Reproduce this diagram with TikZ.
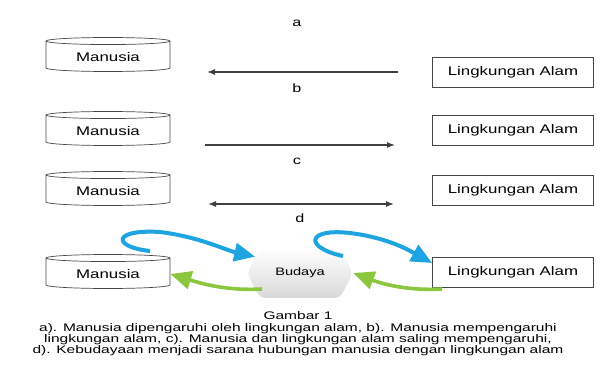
\documentclass[tikz,border=0pt]{standalone}
\usepackage{fontspec}
\setmainfont{Liberation Sans}[FakeStretch=1.35]
\newfontfamily\capfont{Liberation Sans}[FakeStretch=1.41]
\usetikzlibrary{arrows.meta,positioning,shapes.geometric,shapes.symbols}
\definecolor{skyarr}{RGB}{30,165,225}
\definecolor{leafarr}{RGB}{140,198,63}
\definecolor{edgegray}{RGB}{70,70,70}

\begin{document}
\begin{tikzpicture}[x=1pt,y=-1pt,>={Latex[length=8pt,width=6pt]},
 manusia/.style={draw=edgegray,line width=.7pt,shape=cylinder,shape border rotate=90,aspect=.1,
  minimum width=124pt,minimum height=34pt,font=\fontsize{12.5}{14}\selectfont},
 alam/.style={draw=edgegray,line width=.7pt,minimum width=161pt,minimum height=30pt,
  font=\fontsize{12.5}{14}\selectfont},
 budaya/.style={shape=signal,signal to=west and east,signal pointer angle=125,rounded corners=6pt,
  top color=white,bottom color=gray!30,minimum width=106pt,minimum height=50pt,
  font=\fontsize{10.8}{12}\selectfont},
 lbl/.style={font=\fontsize{12}{14}\selectfont},
 rel/.style={draw=black!75,line width=1.1pt},
 bigarr/.style={line width=4pt,-{Triangle[width=18pt,length=21pt]}}]
\useasboundingbox (0,0) rectangle (597,365);
% Manusia
\node[manusia] (manA) at (108,57){Manusia};
\node[manusia] (manB) at (108,131){Manusia};
\node[manusia] (manC) at (108,191){Manusia};
\node[manusia] (manD) at (108,274){Manusia};
% Lingkungan Alam
\node[alam] (alamA) at (513,72){Lingkungan Alam};
\node[alam] (alamB) at (513,130){Lingkungan Alam};
\node[alam] (alamC) at (513,190){Lingkungan Alam};
\node[alam] (alamD) at (513,272){Lingkungan Alam};
\node[lbl] (la) at (297,23){a};
\node[lbl] (lb) at (297,88){b};
\node[lbl] (lc) at (297,161){c};
\node[lbl] (ld) at (300,218){d};
% a, b, c
\coordinate (aR) at (398,72);\coordinate (aL) at (207,72);
\coordinate (bL) at (205,145);\coordinate (bR) at (395,145);
\coordinate (cL) at (208,204);\coordinate (cR) at (394,204);
\draw[rel,->](aR)--(aL);
\draw[rel,->](bL)--(bR);
\draw[rel,<->](cL)--(cR);
% d
\node[budaya] (bud) at (300,273){Budaya};
\coordinate (blL) at (150,251);\coordinate (blR) at (343,256);
\coordinate (grL) at (262,289);\coordinate (grR) at (442,289);
\draw[bigarr,skyarr](blL) .. controls (112,247) and (112,229) .. (160,232)
 .. controls (200,237) and (225,250) .. (bud.160);
\draw[bigarr,skyarr](blR) .. controls (305,248) and (305,228) .. (350,233)
 .. controls (390,238) and (412,252) .. ([yshift=9pt]alamD.west);
\draw[bigarr,leafarr,line width=3.6pt](grL) .. controls (225,291) and (200,283) .. (manD.east);
\draw[bigarr,leafarr,line width=3.6pt](grR) .. controls (405,291) and (380,283) .. (bud.east);
\node[font=\capfont\fontsize{11}{11.4}\selectfont,align=center] (cap) at (298,334)
 {Gambar 1\\
 a). Manusia dipengaruhi oleh lingkungan alam, b). Manusia mempengaruhi\\
 lingkungan alam, c). Manusia dan lingkungan alam saling mempengaruhi,\\
 d). Kebudayaan menjadi sarana hubungan manusia dengan lingkungan alam};
\end{tikzpicture}
\end{document}
